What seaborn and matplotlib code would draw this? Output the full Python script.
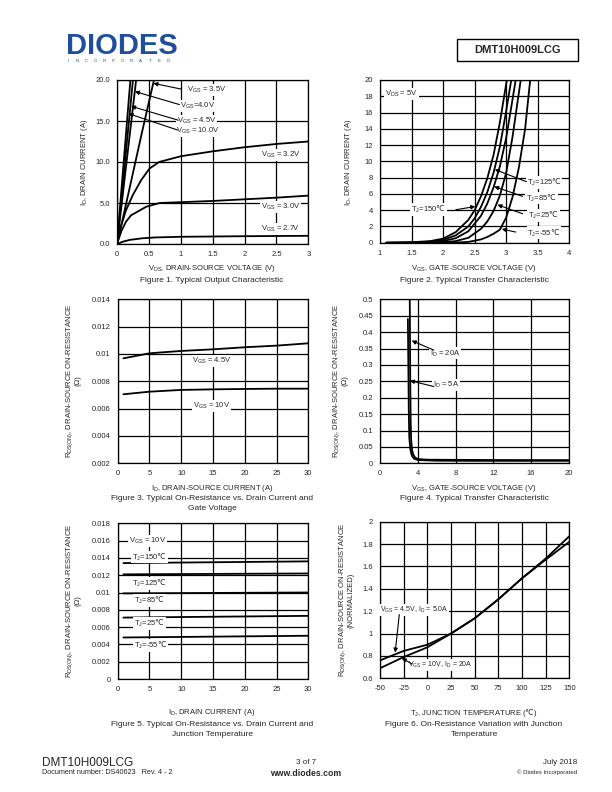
import matplotlib
matplotlib.use("Agg")
import matplotlib.pyplot as plt
import seaborn as sns
from matplotlib.patches import Rectangle

# ---------------------------------
# DATA
# ---------------------------------

# Figure 1 - typical output characteristic
vds_10v = [0, 0.21]
id_10v = [0, 20]
vds_45v = [0, 0.25]
id_45v = [0, 20]
vds_40v = [0, 0.30]
id_40v = [0, 20]
vds_35v = [0, 0.1, 0.2, 0.3, 0.4, 0.5, 0.58]
id_35v = [0, 3.4, 6.9, 10.4, 13.9, 17.3, 20]
vds_32v = [0, 0.06, 0.14, 0.25, 0.38, 0.51, 0.66, 1.0, 1.5, 2.0, 2.5, 3.0]
id_32v = [0, 2.1, 4.1, 6.0, 7.8, 9.2, 10.0, 10.7, 11.3, 11.8, 12.2, 12.5]
vds_30v = [0, 0.07, 0.14, 0.22, 0.46, 0.67, 1.0, 1.5, 2.0, 2.5, 3.0]
id_30v = [0, 1.6, 2.7, 3.5, 4.55, 5.0, 5.1, 5.25, 5.45, 5.65, 5.9]
vds_27v = [0, 0.1, 0.2, 0.4, 0.6, 1.0, 2.0, 3.0]
id_27v = [0, 0.3, 0.5, 0.7, 0.8, 0.88, 0.95, 1.0]

# Figure 2 - typical transfer characteristic (VDS = 5V)
vgs_150 = [1.1, 1.5, 1.8, 2.0, 2.2, 2.4, 2.5, 2.6, 2.7, 2.8, 2.9, 3.01]
id_150 = [0, 0.05, 0.2, 0.5, 1.3, 2.8, 4.0, 5.7, 7.9, 10.8, 14.8, 20]
vgs_125 = [1.1, 1.5, 1.8, 2.0, 2.2, 2.4, 2.5, 2.6, 2.7, 2.8, 2.9, 3.0, 3.08]
id_125 = [0, 0.03, 0.12, 0.35, 0.9, 2.0, 3.0, 4.4, 6.2, 8.6, 11.8, 16.2, 20]
vgs_85 = [1.1, 1.5, 1.8, 2.0, 2.2, 2.4, 2.6, 2.7, 2.8, 2.9, 3.0, 3.1, 3.15]
id_85 = [0, 0.02, 0.07, 0.2, 0.55, 1.4, 3.3, 4.8, 6.8, 9.4, 12.9, 17.6, 20]
vgs_25 = [1.4, 1.8, 2.0, 2.2, 2.4, 2.6, 2.7, 2.8, 2.9, 3.0, 3.1, 3.23]
id_25 = [0, 0.02, 0.06, 0.2, 0.6, 1.7, 2.6, 3.9, 5.8, 8.6, 13.0, 20]
vgs_m55 = [1.8, 2.2, 2.4, 2.6, 2.7, 2.8, 2.9, 3.0, 3.1, 3.2, 3.3, 3.38]
id_m55 = [0, 0.02, 0.1, 0.4, 0.7, 1.1, 1.6, 3.1, 5.6, 9.2, 14.0, 20]

# Figure 3 - on-resistance vs drain current and gate voltage
id_f3 = [0.9, 5, 10, 15, 20, 25, 30]
rds_45v = [0.00968, 0.01005, 0.01022, 0.01034, 0.01049, 0.01061, 0.01078]
rds_10v = [0.00705, 0.00724, 0.00737, 0.00741, 0.00744, 0.00746, 0.00746]

# Figure 4 - on-resistance vs gate-source voltage
vgs_20a = [3.15, 3.17, 3.2, 3.25, 3.3, 3.4, 3.5, 3.7, 4.0, 5, 8, 12, 16, 20]
rds_20a = [0.5, 0.4, 0.25, 0.12, 0.07, 0.04, 0.028, 0.018, 0.013, 0.011,
           0.0105, 0.01, 0.0098, 0.0097]
vgs_5a = [2.95, 3.0, 3.05, 3.1, 3.2, 3.3, 3.4, 3.6, 4.0, 6, 10, 20]
rds_5a = [0.44, 0.3, 0.15, 0.08, 0.045, 0.03, 0.022, 0.014, 0.01, 0.008,
          0.0075, 0.0075]

# Figure 5 - on-resistance vs drain current and junction temperature
id_f5 = [0.9, 30]
rds_t150 = [0.0134, 0.0136]
rds_t125 = [0.0121, 0.0122]
rds_t85 = [0.0099, 0.0100]
rds_t25 = [0.0071, 0.0073]
rds_tm55 = [0.0048, 0.0050]

# Figure 6 - normalised on-resistance vs junction temperature
tj = [-50, -25, 0, 25, 50, 75, 100, 125, 150]
rn_45v = [0.76, 0.845, 0.90, 1.0, 1.136, 1.306, 1.494, 1.66, 1.82]
rn_10v = [0.69, 0.79, 0.877, 1.0, 1.136, 1.306, 1.494, 1.67, 1.87]

# tick labels
f1_xt = [0, 0.5, 1, 1.5, 2, 2.5, 3]
f1_xl = ["0", "0.5", "1", "1.5", "2", "2.5", "3"]
f1_yt = [0, 5, 10, 15, 20]
f1_yl = ["0.0", "5.0", "10.0", "15.0", "20.0"]
f2_xt = [1, 1.5, 2, 2.5, 3, 3.5, 4]
f2_xl = ["1", "1.5", "2", "2.5", "3", "3.5", "4"]
f2_yt = [0, 2, 4, 6, 8, 10, 12, 14, 16, 18, 20]
f2_yl = ["0", "2", "4", "6", "8", "10", "12", "14", "16", "18", "20"]
f3_xt = [0, 5, 10, 15, 20, 25, 30]
f3_xl = ["0", "5", "10", "15", "20", "25", "30"]
f3_yt = [0.002, 0.004, 0.006, 0.008, 0.010, 0.012, 0.014]
f3_yl = ["0.002", "0.004", "0.006", "0.008", "0.01", "0.012", "0.014"]
f4_xt = [0, 4, 8, 12, 16, 20]
f4_xl = ["0", "4", "8", "12", "16", "20"]
f4_yt = [0, 0.05, 0.1, 0.15, 0.2, 0.25, 0.3, 0.35, 0.4, 0.45, 0.5]
f4_yl = ["0", "0.05", "0.1", "0.15", "0.2", "0.25", "0.3", "0.35", "0.4",
         "0.45", "0.5"]
f5_yt = [0, 0.002, 0.004, 0.006, 0.008, 0.010, 0.012, 0.014, 0.016, 0.018]
f5_yl = ["0", "0.002", "0.004", "0.006", "0.008", "0.01", "0.012", "0.014",
         "0.016", "0.018"]
f6_xt = [-50, -25, 0, 25, 50, 75, 100, 125, 150]
f6_xl = ["-50", "-25", "0", "25", "50", "75", "100", "125", "150"]
f6_yt = [0.6, 0.8, 1.0, 1.2, 1.4, 1.6, 1.8, 2.0]
f6_yl = ["0.6", "0.8", "1", "1.2", "1.4", "1.6", "1.8", "2"]

# ---------------------------------
# STYLE
# ---------------------------------

sns.set_style("white")
plt.rcParams["font.family"] = ["Liberation Sans", "DejaVu Sans"]
plt.rcParams["mathtext.default"] = "regular"
# degree-celsius sign comes from DejaVu Sans through \mathrm
plt.rcParams["mathtext.fontset"] = "custom"
plt.rcParams["mathtext.rm"] = "DejaVu Sans"

DEG = r"$\mathrm{℃}$"
FS = 5.5      # ticks, axis titles, in-plot labels
CAP = 6       # figure captions

W, H = 612, 792
fig = plt.figure(figsize=(W / 100, H / 100), dpi=100)
fig.patch.set_facecolor("white")


def add_ax(l, t, r, b):
    return fig.add_axes([l / W, 1 - b / H, (r - l) / W, (b - t) / H])


def ftext(x, y, s, **kw):
    kw.setdefault("ha", "center")
    kw.setdefault("va", "center")
    fig.text(x / W, 1 - y / H, s, **kw)


def style(ax, xlim, ylim, xt, xl, yt, yl):
    ax.set_xlim(xlim)
    ax.set_ylim(ylim)
    ax.set_xticks(xt)
    ax.set_xticklabels(xl)
    ax.set_yticks(yt)
    ax.set_yticklabels(yl)
    ax.grid(True, color="k", lw=0.9)
    ax.tick_params(length=0, labelsize=FS, pad=5)
    for sp in ax.spines.values():
        sp.set_color("k")
        sp.set_linewidth(0.9)
    ax.set_xlabel("")
    ax.set_ylabel("")


def curve(ax, x, y, lw=1.3):
    sns.lineplot(x=x, y=y, ax=ax, color="k", linewidth=lw,
                 estimator=None, sort=False)


def lab(ax, x, y, s, fs=FS):
    ax.text(x, y, s, fontsize=fs, ha="center", va="center",
            bbox=dict(fc="white", ec="none", pad=0.6), zorder=4)


def arrow(ax, tip, tail):
    ax.annotate("", xy=tip, xytext=tail,
                arrowprops=dict(arrowstyle="-|>", color="k", lw=0.8,
                                mutation_scale=6, shrinkA=0, shrinkB=0),
                zorder=5)


# ---------------------------------
# FIGURE 1
# ---------------------------------

ax1 = add_ax(117, 80, 308.3, 244)
for x, y in [(vds_10v, id_10v), (vds_45v, id_45v), (vds_40v, id_40v),
             (vds_35v, id_35v), (vds_32v, id_32v), (vds_30v, id_30v),
             (vds_27v, id_27v)]:
    curve(ax1, x, y)
style(ax1, (0, 3), (0, 20), f1_xt, f1_xl, f1_yt, f1_yl)
lab(ax1, 1.41, 18.8, "V$_{GS}$ = 3.5V")
lab(ax1, 1.27, 16.8, "V$_{GS}$=4.0V")
lab(ax1, 1.25, 15.0, "V$_{GS}$ = 4.5V")
lab(ax1, 1.27, 13.8, "V$_{GS}$ = 10.0V")
arrow(ax1, (0.57, 19.6), (1.0, 18.9))
arrow(ax1, (0.28, 18.6), (0.98, 17.0))
arrow(ax1, (0.22, 16.8), (0.96, 15.1))
arrow(ax1, (0.18, 15.9), (0.95, 13.9))
lab(ax1, 2.56, 10.85, "V$_{GS}$ = 3.2V")
lab(ax1, 2.56, 4.55, "V$_{GS}$ = 3.0V")
lab(ax1, 2.56, 1.8, "V$_{GS}$ = 2.7V")
ftext(85, 162, "I$_D$, DRAIN CURRENT (A)", rotation=90, fontsize=FS)
ftext(212, 268, "V$_{DS}$, DRAIN-SOURCE VOLTAGE (V)", fontsize=FS)
ftext(212, 280, "Figure 1. Typical Output Characteristic", fontsize=CAP)

# ---------------------------------
# FIGURE 2
# ---------------------------------

ax2 = add_ax(380, 80, 569.3, 242.7)
for x, y in [(vgs_150, id_150), (vgs_125, id_125), (vgs_85, id_85),
             (vgs_25, id_25), (vgs_m55, id_m55)]:
    curve(ax2, x, y)
style(ax2, (1, 4), (0, 20), f2_xt, f2_xl, f2_yt, f2_yl)
lab(ax2, 1.34, 18.3, "V$_{DS}$ = 5V")
lab(ax2, 3.6, 7.4, "T$_J$=125" + DEG)
lab(ax2, 3.56, 5.5, "T$_J$=85" + DEG)
lab(ax2, 3.59, 3.35, "T$_J$=25" + DEG)
lab(ax2, 3.6, 1.2, "T$_J$=-55" + DEG)
lab(ax2, 1.77, 4.05, "T$_J$=150" + DEG)
arrow(ax2, (2.82, 9.0), (3.32, 7.5))
arrow(ax2, (2.81, 6.9), (3.26, 5.7))
arrow(ax2, (2.86, 4.66), (3.26, 3.56))
arrow(ax2, (2.93, 1.68), (3.15, 1.31))
arrow(ax2, (2.51, 4.45), (2.2, 4.05))
ftext(348, 162, "I$_D$, DRAIN CURRENT (A)", rotation=90, fontsize=FS)
ftext(474, 268, "V$_{GS}$, GATE-SOURCE VOLTAGE (V)", fontsize=FS)
ftext(474, 280, "Figure 2. Typical Transfer Characteristic", fontsize=CAP)

# ---------------------------------
# FIGURE 3
# ---------------------------------

ax3 = add_ax(117.7, 299.3, 308.3, 463.3)
curve(ax3, id_f3, rds_45v)
curve(ax3, id_f3, rds_10v)
style(ax3, (0, 30), (0.002, 0.014), f3_xt, f3_xl, f3_yt, f3_yl)
lab(ax3, 14.8, 0.00951, "V$_{GS}$ = 4.5V")
lab(ax3, 14.8, 0.0062, "V$_{GS}$ = 10V")
ftext(70, 381, "R$_{DS(ON)}$, DRAIN-SOURCE ON-RESISTANCE", rotation=90,
      fontsize=FS)
ftext(78, 381, "(Ω)", rotation=90, fontsize=FS)
ftext(212, 489, "I$_D$, DRAIN-SOURCE CURRENT (A)", fontsize=FS)
ftext(212, 499, "Figure 3. Typical On-Resistance vs. Drain Current and",
      fontsize=CAP)
ftext(212, 508.5, "Gate Voltage", fontsize=CAP)

# ---------------------------------
# FIGURE 4
# ---------------------------------

ax4 = add_ax(380, 299.3, 569, 463.3)
curve(ax4, vgs_20a, rds_20a)
curve(ax4, vgs_5a, rds_5a)
style(ax4, (0, 20), (0, 0.5), f4_xt, f4_xl, f4_yt, f4_yl)
lab(ax4, 6.9, 0.335, "I$_D$ = 20A")
lab(ax4, 7.0, 0.24, "I$_D$ = 5A")
arrow(ax4, (3.35, 0.374), (5.7, 0.345))
arrow(ax4, (3.17, 0.252), (5.7, 0.234))
ftext(337, 381, "R$_{DS(ON)}$, DRAIN-SOURCE ON-RESISTANCE", rotation=90,
      fontsize=FS)
ftext(345, 381, "(Ω)", rotation=90, fontsize=FS)
ftext(474, 489, "V$_{GS}$, GATE-SOURCE VOLTAGE (V)", fontsize=FS)
ftext(474, 499, "Figure 4. Typical Transfer Characteristic", fontsize=CAP)

# ---------------------------------
# FIGURE 5
# ---------------------------------

ax5 = add_ax(117.7, 523.3, 308.3, 679)
for r in [rds_t150, rds_t125, rds_t85, rds_t25, rds_tm55]:
    curve(ax5, id_f5, r)
style(ax5, (0, 30), (0, 0.018), f3_xt, f3_xl, f5_yt, f5_yl)
lab(ax5, 4.7, 0.0160, "V$_{GS}$ = 10V")
lab(ax5, 5.0, 0.0141, "T$_J$=150" + DEG)
lab(ax5, 5.0, 0.0110, "T$_J$=125" + DEG)
lab(ax5, 5.0, 0.00905, "T$_J$=85" + DEG)
lab(ax5, 5.0, 0.00637, "T$_J$=25" + DEG)
lab(ax5, 5.2, 0.0039, "T$_J$=-55" + DEG)
ftext(70, 601, "R$_{DS(ON)}$, DRAIN-SOURCE ON-RESISTANCE", rotation=90,
      fontsize=FS)
ftext(78, 601, "(Ω)", rotation=90, fontsize=FS)
ftext(212, 713, "I$_D$, DRAIN CURRENT (A)", fontsize=FS)
ftext(212, 724.5, "Figure 5. Typical On-Resistance vs. Drain Current and",
      fontsize=CAP)
ftext(212, 734, "Junction Temperature", fontsize=CAP)

# ---------------------------------
# FIGURE 6
# ---------------------------------

ax6 = add_ax(380, 521.7, 569.3, 678.3)
curve(ax6, tj, rn_45v)
curve(ax6, tj, rn_10v)
style(ax6, (-50, 150), (0.6, 2.0), f6_xt, f6_xl, f6_yt, f6_yl)
lab(ax6, -14, 1.21, "V$_{GS}$ = 4.5V, I$_D$ = 5.0A", fs=5.0)
lab(ax6, 14, 0.72, "V$_{GS}$ = 10V, I$_D$ = 20A", fs=5.0)
arrow(ax6, (-34, 0.83), (-29.6, 1.17))
arrow(ax6, (-27, 0.78), (-16.5, 0.73))
ftext(343, 600, "R$_{DS(ON)}$, DRAIN-SOURCE ON-RESISTANCE", rotation=90,
      fontsize=FS)
ftext(351, 600, "(NORMALIZED)", rotation=90, fontsize=FS)
ftext(474, 713, "T$_J$, JUNCTION TEMPERATURE (" + DEG + ")", fontsize=FS)
ftext(474, 724.5, "Figure 6. On-Resistance Variation with Junction",
      fontsize=CAP)
ftext(474, 734, "Temperature", fontsize=CAP)

# ---------------------------------
# PAGE HEADER / FOOTER
# ---------------------------------

blue = "#1f4f9c"
ftext(66, 46, "DIODES", fontsize=21, fontweight="bold", color=blue,
      ha="left")
for i, ch in enumerate("INCORPORATED"):
    ftext(68 + i * 9.1, 61.5, ch, fontsize=3.2, color=blue)
fig.patches.append(Rectangle((457 / W, 1 - 61 / H), 121 / W, 22 / H,
                             transform=fig.transFigure, fill=False,
                             ec="k", lw=1))
ftext(517.5, 50, "DMT10H009LCG", fontsize=8, fontweight="bold")

ftext(42, 763, "DMT10H009LCG", fontsize=8.5, ha="left")
ftext(42, 773, "Document number: DS40623   Rev. 4 - 2", fontsize=5.2,
      ha="left")
ftext(306, 763, "3 of 7", fontsize=5.8)
ftext(306, 773, "www.diodes.com", fontsize=6.2, fontweight="bold")
ftext(577, 763, "July 2018", fontsize=5.8, ha="right")
ftext(577, 772.5, "© Diodes Incorporated", fontsize=4.3, ha="right")

fig.savefig("out.png", dpi=100)
